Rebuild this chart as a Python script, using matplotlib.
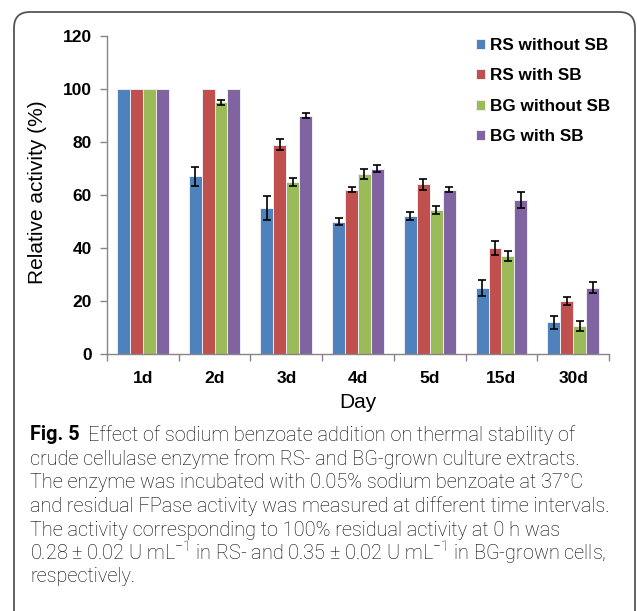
import matplotlib
matplotlib.use("Agg")
import matplotlib.pyplot as plt
from matplotlib import font_manager
from matplotlib.patches import FancyBboxPatch
import numpy as np

days = ["1d", "2d", "3d", "4d", "5d", "15d", "30d"]
series = ["RS without SB", "RS with SB", "BG without SB", "BG with SB"]
colors = ["#4F81BD", "#C0504D", "#9BBB59", "#8064A2"]

rs_without = [100, 67, 55, 50, 52, 25, 12]
rs_without_err = [0, 3.5, 4.5, 1.5, 1.5, 3, 2.5]
rs_with = [100, 100, 79, 62, 64, 40, 20]
rs_with_err = [0, 0, 2, 1, 2, 2.5, 1.5]
bg_without = [100, 95, 65, 68, 54.5, 37, 10.5]
bg_without_err = [0, 1, 1.5, 2, 1.5, 2, 2]
bg_with = [100, 100, 90, 70, 62, 58, 25]
bg_with_err = [0, 0, 1, 1.5, 1, 3, 2]

values = [rs_without, rs_with, bg_without, bg_with]
errors = [rs_without_err, rs_with_err, bg_without_err, bg_with_err]

caption = [
    "crude cellulase enzyme from RS- and BG-grown culture extracts.",
    "The enzyme was incubated with 0.05% sodium benzoate at 37°C",
    "and residual FPase activity was measured at different time intervals.",
    "The activity corresponding to 100% residual activity at 0 h was",
    "0.28 ± 0.02 U mL$^{-1}$ in RS- and 0.35 ± 0.02 U mL$^{-1}$ in BG-grown cells,",
    "respectively.",
]

installed = {f.name for f in font_manager.fontManager.ttflist}
cap_font = "Roboto" if "Roboto" in installed else "Open Sans"

plt.rcParams["font.family"] = "Liberation Sans"
plt.rcParams["mathtext.fontset"] = "custom"
plt.rcParams["mathtext.rm"] = cap_font + ":light"

W, H = 637, 611
fig = plt.figure(figsize=(W / 100, H / 100), dpi=100)

# rounded frame around the figure
frame = FancyBboxPatch((14 / W, -0.05), (635 - 14) / W, 1.05 - 12 / H,
                       boxstyle="round,pad=0,rounding_size=0.025",
                       transform=fig.transFigure, fill=False,
                       edgecolor="#555555", lw=1.3, mutation_aspect=W / H)
fig.patches.append(frame)

ax = fig.add_axes([107 / W, 1 - 354 / H, (609 - 107) / W, (354 - 36) / H])

x = np.arange(len(days))
bw = 0.18
for i, (vals, errs) in enumerate(zip(values, errors)):
    pos = x + (i - 1.5) * bw
    ax.bar(pos, vals, bw, color=colors[i], edgecolor="#eeeef4", lw=0.7,
           label=series[i], zorder=2)
    e = np.array(errs)
    m = e > 0
    ax.errorbar(pos[m], np.array(vals)[m], yerr=e[m], fmt="none",
                ecolor="black", elinewidth=1.2, capsize=2.6, capthick=1.2, zorder=3)

ax.set_xlim(-0.5, len(days) - 0.5)
ax.set_ylim(0, 120)
ax.set_yticks(range(0, 121, 20))
ax.set_xticks(x)
ax.set_xticklabels(days)
ax.set_xticks(np.arange(-0.5, len(days)), minor=True)
ax.tick_params(axis="x", which="major", length=0, pad=12, labelsize=12.5)
ax.tick_params(axis="x", which="minor", length=5, width=1, color="#868686")
ax.tick_params(axis="y", length=5, width=1, color="#868686", pad=6, labelsize=12.5)
for lab in ax.get_xticklabels() + ax.get_yticklabels():
    lab.set_fontweight("bold")

for s in ["top", "right"]:
    ax.spines[s].set_visible(False)
for s in ["left", "bottom"]:
    ax.spines[s].set_color("#868686")
    ax.spines[s].set_linewidth(1)

ax.set_ylabel("Relative activity (%)", fontsize=15)
ax.yaxis.set_label_coords(-0.12, 0.51)
ax.set_xlabel("Day", fontsize=15, va="center")
ax.xaxis.set_label_coords(0.5, -0.154)

leg = ax.legend(loc="upper left", bbox_to_anchor=(476 / W, 1 - 38 / H),
                bbox_transform=fig.transFigure, frameon=False,
                prop={"weight": "bold", "size": 12.3}, handlelength=0.55,
                handleheight=0.55, handletextpad=0.25, labelspacing=0.9,
                borderpad=0, borderaxespad=0)

# caption
fig.canvas.draw()
r = fig.canvas.get_renderer()
ys = [435, 459, 482, 506, 530, 553, 577]
fs = 13
probe = fig.text(30 / W, 0.5, caption[2], fontsize=fs, family=cap_font, weight="light")
wpx = probe.get_window_extent(r).width
probe.remove()
fs = fs * 577 / wpx

t0 = fig.text(30 / W, 1 - ys[0] / H, "Fig. 5", fontsize=fs, family=cap_font,
              weight="bold", va="center")
x1 = t0.get_window_extent(r).x1
fig.text((x1 + 8) / W, 1 - ys[0] / H,
         "Effect of sodium benzoate addition on thermal stability of",
         fontsize=fs, family=cap_font, weight="light", va="center")
for line, yy in zip(caption, ys[1:]):
    fig.text(30 / W, 1 - yy / H, line, fontsize=fs, family=cap_font,
             weight="light", va="center")

fig.savefig("out.png", dpi=100)
